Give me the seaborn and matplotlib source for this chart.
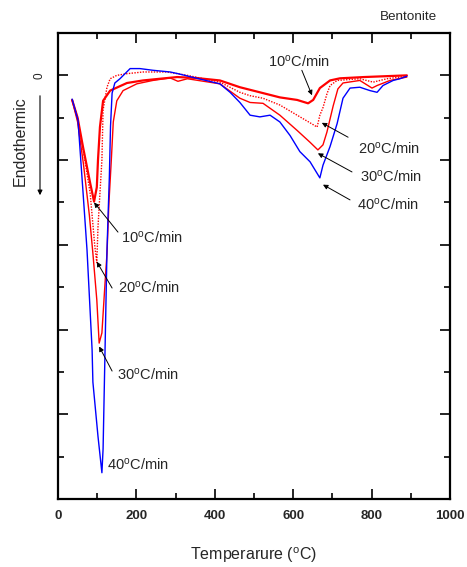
import matplotlib
matplotlib.use("Agg")
import matplotlib.pyplot as plt
import seaborn as sns
import pandas as pd

# ---- data (temperature in degC, relative DTA signal) ----
T10 = [36, 50, 64, 82, 92, 99, 102, 107, 115, 133, 176, 217, 260, 304, 350, 413, 464,
       515, 566, 610, 638, 651, 668, 694, 719, 780, 890]
Y10 = [-0.29, -0.5, -0.85, -1.27, -1.49, -1.32, -1.0, -0.61, -0.3, -0.18, -0.09, -0.06,
       -0.04, -0.02, -0.03, -0.06, -0.14, -0.2, -0.26, -0.29, -0.33, -0.29, -0.15, -0.06,
       -0.035, -0.02, 0.0]

T20 = [36, 50, 65, 82, 94, 99, 102, 107, 112, 115, 125, 133, 150, 176, 217, 278, 330,
       413, 464, 490, 523, 566, 610, 643, 661, 668, 676, 686, 694, 712, 770, 804, 839, 890]
Y20 = [-0.29, -0.5, -0.9, -1.39, -2.02, -2.21, -1.79, -1.39, -1.0, -0.41, -0.14, -0.04,
       0.0, 0.02, 0.04, 0.04, 0.0, -0.08, -0.2, -0.24, -0.27, -0.35, -0.47, -0.56, -0.61,
       -0.47, -0.38, -0.22, -0.12, -0.06, -0.04, -0.08, -0.04, -0.01]

T30 = [36, 50, 65, 80, 89, 99, 105, 112, 120, 125, 130, 136, 141, 150, 166, 201, 242,
       286, 306, 330, 413, 464, 490, 523, 566, 610, 643, 663, 676, 686, 702, 714, 727,
       770, 801, 814, 847, 890]
Y30 = [-0.29, -0.55, -1.05, -1.65, -2.1, -2.65, -3.16, -3.04, -2.45, -2.1, -1.5, -1.0,
       -0.55, -0.3, -0.18, -0.1, -0.06, -0.03, -0.07, -0.04, -0.1, -0.27, -0.32, -0.33,
       -0.47, -0.65, -0.79, -0.88, -0.82, -0.67, -0.36, -0.16, -0.09, -0.06, -0.15, -0.12,
       -0.06, -0.02]

T40 = [36, 51, 64, 74, 87, 89, 102, 112, 115, 120, 125, 128, 131, 134, 138, 145, 158,
       184, 209, 242, 286, 306, 350, 413, 439, 464, 490, 515, 541, 566, 592, 617, 643,
       668, 676, 694, 712, 727, 745, 770, 796, 814, 829, 855, 872, 890]
Y40 = [-0.28, -0.53, -1.39, -2.06, -3.24, -3.62, -4.26, -4.69, -4.41, -3.24, -2.06,
       -1.62, -1.2, -0.6, -0.21, -0.09, -0.04, 0.08, 0.08, 0.06, 0.04, 0.02, -0.03, -0.1,
       -0.2, -0.32, -0.47, -0.49, -0.47, -0.55, -0.71, -0.9, -1.02, -1.21, -1.06, -0.84,
       -0.57, -0.27, -0.15, -0.14, -0.18, -0.2, -0.12, -0.06, -0.04, -0.01]

RATE_LABELS = ["10", "20", "30", "40"]
XTICKS = [0, 200, 400, 600, 800, 1000]
XTICK_LABELS = ["0", "200", "400", "600", "800", "1000"]
YTICKS = [0, -1, -2, -3, -4]
YTICK_LABELS = ["0", "", "", "", ""]

# annotation anchors (text position, arrow tail, arrow tip) in data coords
HIGH_TEXT = [(615, 0.165), (844, -0.86), (850, -1.2), (842, -1.53)]
HIGH_TAIL = [(622, 0.06), (740, -0.73), (750, -1.14), (745, -1.47)]
HIGH_TIP = [(648, -0.235), (673, -0.56), (663, -0.92), (676, -1.29)]
LOW_TEXT = [(240, -1.91), (232, -2.5), (229, -3.53), (204, -4.59)]
LOW_TAIL = [(153, -1.85), (138, -2.51), (138, -3.49), None]
LOW_TIP = [(92, -1.5), (99, -2.2), (105, -3.2), None]

sns.set_theme(style="white")
plt.rcParams["font.family"] = ["Liberation Sans", "DejaVu Sans"]
plt.rcParams["mathtext.fontset"] = "custom"
plt.rcParams["mathtext.rm"] = "Liberation Sans"
plt.rcParams["mathtext.it"] = "Liberation Sans:italic"

fig = plt.figure(figsize=(4.67, 5.67), dpi=100)
ax = fig.add_axes([58 / 467, 1 - 499 / 567, 392 / 467, 466 / 567])

series = [
    (T10, Y10, dict(color="#ff0000", lw=1.6, linestyle="-")),
    (T20, Y20, dict(color="#ff0000", lw=1.0, linestyle=(0, (1, 1)))),
    (T30, Y30, dict(color="#ff0000", lw=1.0, linestyle="-")),
    (T40, Y40, dict(color="#0000ff", lw=1.0, linestyle="-")),
]
for (t, y, style), lab in zip(series, RATE_LABELS):
    df = pd.DataFrame({"T": t, "S": y})
    sns.lineplot(data=df, x="T", y="S", ax=ax, sort=False, estimator=None,
                 legend=False, **style)

ax.set_xlim(0, 1000)
ax.set_ylim(-5, 0.5)
ax.set_xticks(XTICKS)
ax.set_xticklabels(XTICK_LABELS, fontsize=9.5, fontweight="bold")
ax.set_xticks([100, 300, 500, 700, 900], minor=True)
ax.set_yticks(YTICKS)
ax.set_yticklabels(YTICK_LABELS, rotation=90, fontsize=8.5, va="center")
ax.set_yticks([-0.5, -1.5, -2.5, -3.5, -4.5], minor=True)
ax.tick_params(which="both", direction="in", top=True, right=True, bottom=True,
               left=True, color="black", width=1.2)
ax.tick_params(which="major", length=7)
ax.tick_params(which="minor", length=4)
ax.tick_params(axis="x", pad=8)
ax.tick_params(axis="y", pad=9)
for s in ax.spines.values():
    s.set_linewidth(1.6)
    s.set_color("black")

ax.set_xlabel("Temperarure ($^{\\mathrm{o}}$C)", fontsize=11.5, labelpad=17)
ax.set_ylabel("")

arrow = dict(arrowstyle="-|>", color="black", lw=0.7, mutation_scale=7,
             shrinkA=0, shrinkB=0)

def label(r):
    return r + "$^{\\mathrm{o}}$C/min"

for r, txt, tail, tip in zip(RATE_LABELS, HIGH_TEXT, HIGH_TAIL, HIGH_TIP):
    ax.text(txt[0], txt[1], label(r), fontsize=10.5, ha="center", va="center")
    ax.annotate("", xy=tip, xytext=tail, arrowprops=arrow)
for r, txt, tail, tip in zip(RATE_LABELS, LOW_TEXT, LOW_TAIL, LOW_TIP):
    ax.text(txt[0], txt[1], label(r), fontsize=10.5, ha="center", va="center")
    if tip is not None:
        ax.annotate("", xy=tip, xytext=tail, arrowprops=arrow)

fig.text(437 / 467, 1 - 17 / 567, "Bentonite", fontsize=9.7, ha="right", va="center")
fig.text(20 / 467, 1 - 141 / 567, "Endothermic", fontsize=11.5, rotation=90,
         ha="center", va="center")
fig.add_artist(matplotlib.patches.FancyArrowPatch(
    (40 / 467, 1 - 93 / 567), (40 / 467, 1 - 198 / 567), transform=fig.transFigure,
    arrowstyle="-|>", mutation_scale=7, lw=0.8, color="black"))

fig.savefig("out.png", dpi=100)
